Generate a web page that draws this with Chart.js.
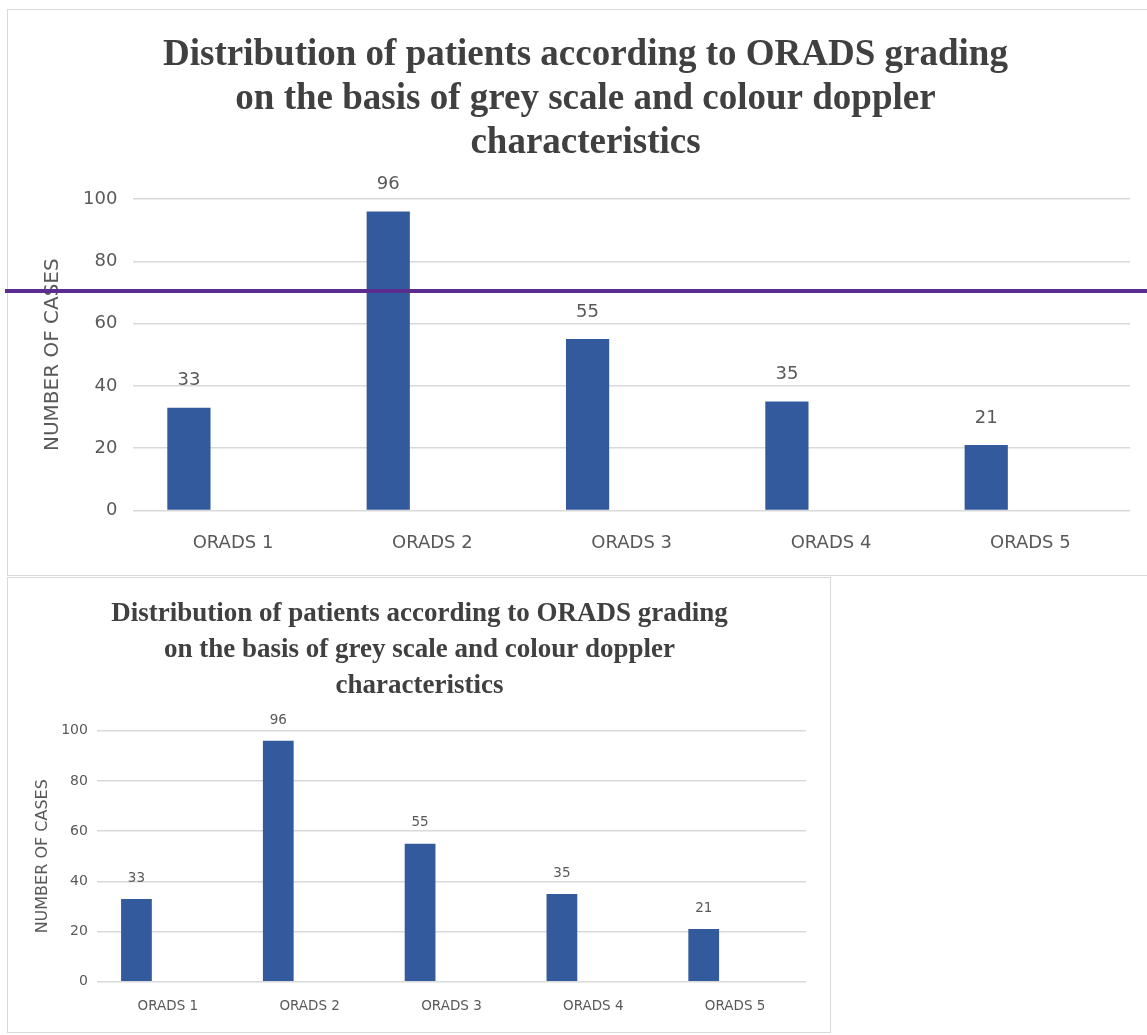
<!DOCTYPE html>
<html>
<head>
<meta charset="utf-8">
<script src="https://cdn.jsdelivr.net/npm/chart.js@4.4.0/dist/chart.umd.min.js"></script>
<style>
  html, body { margin: 0; padding: 0; background: #ffffff; }
  body { width: 1147px; height: 1035px; position: relative; overflow: hidden; }
  .box { position: absolute; background: #fff; border: 1px solid #d9d9d9; box-sizing: border-box; }
  #box1 { left: 7px; top: 9px; width: 1150px; height: 567px; }
  #box2 { left: 7px; top: 577px; width: 824px; height: 456px; }
  .box canvas { position: absolute; left: 0; top: 0; }
  #stripe { position: absolute; left: 5px; top: 289px; width: 1142px; height: 4px; background: #5b2d8e; }
</style>
</head>
<body>
<div class="box" id="box1"><canvas id="c1"></canvas></div>
<div class="box" id="box2"><canvas id="c2"></canvas></div>
<div id="stripe"></div>
<script>
const categories = ["ORADS 1", "ORADS 2", "ORADS 3", "ORADS 4", "ORADS 5"];
const cases = [33, 96, 55, 35, 21];
const emptySeries = [null, null, null, null, null];
const yTicks = [0, 20, 40, 60, 80, 100];
const titleLines = [
  "Distribution of patients according to ORADS grading",
  "on the basis of grey scale and colour doppler",
  "characteristics"
];
const axisTitle = "NUMBER OF CASES";

const barColor = "#335a9c";
const textGrey = "#595959";
const sansFont = "'DejaVu Sans', sans-serif";

const valueLabels = {
  id: "valueLabels",
  afterDatasetsDraw(chart, args, opts) {
    const ctx = chart.ctx;
    const meta = chart.getDatasetMeta(0);
    ctx.save();
    ctx.fillStyle = textGrey;
    ctx.font = opts.size + "px " + sansFont;
    ctx.textAlign = "center";
    ctx.textBaseline = "bottom";
    meta.data.forEach((bar, i) => {
      ctx.fillText(String(cases[i]), bar.x, bar.y - opts.gap);
    });
    ctx.restore();
  }
};

function makeChart(id, w, h, s) {
  const canvas = document.getElementById(id);
  canvas.style.width = w + "px";
  canvas.style.height = h + "px";
  return new Chart(canvas, {
    type: "bar",
    data: {
      labels: categories,
      datasets: [
        { label: "Cases", data: cases, backgroundColor: barColor,
          categoryPercentage: 0.885, barPercentage: 0.49 },
        { label: "", data: emptySeries, backgroundColor: barColor,
          categoryPercentage: 0.885, barPercentage: 0.49 }
      ]
    },
    options: {
      responsive: false,
      animation: false,
      devicePixelRatio: 1,
      layout: { padding: { left: s.padLeft, right: s.padRight, top: 0, bottom: s.padBottom } },
      plugins: {
        legend: { display: false },
        tooltip: { enabled: false },
        title: {
          display: true,
          text: titleLines,
          color: "#404040",
          font: { family: "'Liberation Serif', serif", size: s.titleSize, weight: "bold", lineHeight: s.titleLH },
          padding: { top: s.titleTop, bottom: s.titleBottom }
        },
        valueLabels: { size: s.labelSize, gap: s.labelGap }
      },
      scales: {
        x: {
          grid: { display: false },
          border: { display: false },
          ticks: { color: textGrey, font: { family: sansFont, size: s.xTickSize }, padding: s.xTickPad }
        },
        y: {
          min: 0, max: 100,
          afterBuildTicks(scale) { scale.ticks = yTicks.map(v => ({ value: v })); },
          grid: { color: "#d9d9d9", lineWidth: 1.5, drawTicks: false },
          border: { display: false },
          ticks: { color: textGrey, font: { family: sansFont, size: s.yTickSize }, padding: s.yTickPad },
          title: {
            display: true, text: axisTitle, color: textGrey,
            font: { family: sansFont, size: s.axisTitleSize },
            padding: { top: 0, bottom: s.axisTitlePad }
          }
        }
      }
    },
    plugins: [valueLabels]
  });
}

makeChart("c1", 1138, 565, {
  padLeft: 33, padRight: 16, padBottom: 7,
  titleSize: 37, titleLH: 1.18, titleTop: 24, titleBottom: 34,
  xTickSize: 18, yTickSize: 18, xTickPad: 14, yTickPad: 16, axisTitleSize: 20, axisTitlePad: 2,
  labelSize: 18, labelGap: 18
});
makeChart("c2", 822, 454, {
  padLeft: 25, padRight: 24, padBottom: 8,
  titleSize: 27, titleLH: 1.33, titleTop: 18, titleBottom: 27,
  xTickSize: 13.5, yTickSize: 14, xTickPad: 9, yTickPad: 9, axisTitleSize: 16, axisTitlePad: 0,
  labelSize: 13.5, labelGap: 14
});
</script>
</body>
</html>
